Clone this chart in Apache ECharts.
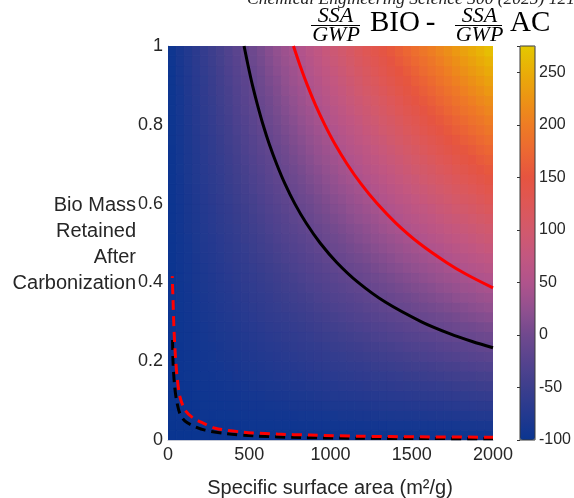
<!DOCTYPE html>
<html>
<head>
<meta charset="utf-8">
<script src="https://cdn.jsdelivr.net/npm/echarts@6/dist/echarts.min.js"></script>
<style>
html,body{margin:0;padding:0;background:#fff;}
#chart{width:574px;height:498px;}
</style>
</head>
<body>
<div id="chart"></div>
<script>
// Cell centres of the heat map grid (specific surface area, m2/g and mass retained)
const ssaCenters = [25,75,125,175,225,275,325,375,425,475,525,575,625,675,725,775,825,875,925,975,1025,1075,1125,1175,1225,1275,1325,1375,1425,1475,1525,1575,1625,1675,1725,1775,1825,1875,1925,1975];
const massCenters = [0.0125,0.0375,0.0625,0.0875,0.1125,0.1375,0.1625,0.1875,0.2125,0.2375,0.2625,0.2875,0.3125,0.3375,0.3625,0.3875,0.4125,0.4375,0.4625,0.4875,0.5125,0.5375,0.5625,0.5875,0.6125,0.6375,0.6625,0.6875,0.7125,0.7375,0.7625,0.7875,0.8125,0.8375,0.8625,0.8875,0.9125,0.9375,0.9625,0.9875];

// SSA/GWP BIO - SSA/GWP AC; one row per mass-retained cell (bottom to top)
const heatRows = [
[-100,-100,-100,-100,-99,-99,-99,-99,-99,-99,-99,-99,-99,-98,-98,-98,-98,-98,-98,-98,-98,-97,-97,-97,-97,-97,-97,-97,-97,-97,-96,-96,-96,-96,-96,-96,-96,-96,-95,-95],
[-100,-99,-99,-99,-98,-98,-98,-97,-97,-97,-96,-96,-96,-95,-95,-95,-94,-94,-93,-93,-93,-92,-92,-92,-91,-91,-91,-90,-90,-90,-89,-89,-89,-88,-88,-88,-87,-87,-86,-86],
[-100,-99,-99,-98,-97,-97,-96,-96,-95,-94,-94,-93,-93,-92,-92,-91,-90,-90,-89,-89,-88,-87,-87,-86,-86,-85,-84,-84,-83,-83,-82,-82,-81,-80,-80,-79,-79,-78,-77,-77],
[-100,-99,-98,-97,-96,-95,-95,-94,-93,-92,-91,-91,-90,-89,-88,-87,-86,-86,-85,-84,-83,-82,-82,-81,-80,-79,-78,-77,-77,-76,-75,-74,-73,-73,-72,-71,-70,-69,-68,-68],
[-99,-98,-97,-96,-95,-94,-93,-92,-91,-90,-89,-88,-87,-86,-85,-84,-83,-82,-80,-79,-78,-77,-76,-75,-74,-73,-72,-71,-70,-69,-68,-67,-66,-65,-64,-63,-62,-60,-59,-58],
[-99,-98,-97,-95,-94,-93,-92,-90,-89,-88,-86,-85,-84,-83,-81,-80,-79,-77,-76,-75,-74,-72,-71,-70,-68,-67,-66,-65,-63,-62,-61,-59,-58,-57,-56,-54,-53,-52,-50,-49],
[-99,-98,-96,-95,-93,-92,-90,-89,-87,-86,-84,-82,-81,-79,-78,-76,-75,-73,-72,-70,-69,-67,-66,-64,-63,-61,-60,-58,-57,-55,-54,-52,-50,-49,-47,-46,-44,-43,-41,-40],
[-99,-97,-96,-94,-92,-90,-89,-87,-85,-83,-82,-80,-78,-76,-75,-73,-71,-69,-67,-66,-64,-62,-60,-59,-57,-55,-53,-52,-50,-48,-46,-45,-43,-41,-39,-38,-36,-34,-32,-31],
[-99,-97,-95,-93,-91,-89,-87,-85,-83,-81,-79,-77,-75,-73,-71,-69,-67,-65,-63,-61,-59,-57,-55,-53,-51,-49,-47,-45,-43,-41,-39,-37,-35,-33,-31,-29,-27,-25,-23,-21],
[-99,-97,-94,-92,-90,-88,-86,-83,-81,-79,-77,-74,-72,-70,-68,-65,-63,-61,-59,-57,-54,-52,-50,-48,-45,-43,-41,-39,-37,-34,-32,-30,-28,-25,-23,-21,-19,-17,-14,-12],
[-99,-96,-94,-91,-89,-86,-84,-82,-79,-77,-74,-72,-69,-67,-64,-62,-59,-57,-54,-52,-50,-47,-45,-42,-40,-37,-35,-32,-30,-27,-25,-22,-20,-18,-15,-13,-10,-8,-5,-3],
[-99,-96,-93,-91,-88,-85,-82,-80,-77,-74,-72,-69,-66,-64,-61,-58,-56,-53,-50,-47,-45,-42,-39,-37,-34,-31,-29,-26,-23,-20,-18,-15,-12,-10,-7,-4,-2,1,4,6],
[-99,-96,-93,-90,-87,-84,-81,-78,-75,-72,-69,-66,-63,-60,-58,-55,-52,-49,-46,-43,-40,-37,-34,-31,-28,-25,-22,-19,-17,-14,-11,-8,-5,-2,1,4,7,10,13,16],
[-98,-95,-92,-89,-86,-83,-79,-76,-73,-70,-67,-64,-60,-57,-54,-51,-48,-45,-41,-38,-35,-32,-29,-26,-22,-19,-16,-13,-10,-7,-3,0,3,6,9,12,15,19,22,25],
[-98,-95,-92,-88,-85,-81,-78,-75,-71,-68,-64,-61,-58,-54,-51,-47,-44,-41,-37,-34,-30,-27,-24,-20,-17,-13,-10,-7,-3,0,4,7,10,14,17,21,24,27,31,34],
[-98,-95,-91,-87,-84,-80,-76,-73,-69,-65,-62,-58,-55,-51,-47,-44,-40,-36,-33,-29,-26,-22,-18,-15,-11,-7,-4,0,4,7,11,14,18,22,25,29,33,36,40,43],
[-98,-94,-90,-86,-83,-79,-75,-71,-67,-63,-59,-56,-52,-48,-44,-40,-36,-32,-28,-25,-21,-17,-13,-9,-5,-1,2,6,10,14,18,22,26,30,33,37,41,45,49,53],
[-98,-94,-90,-86,-82,-77,-73,-69,-65,-61,-57,-53,-49,-45,-41,-36,-32,-28,-24,-20,-16,-12,-8,-4,0,5,9,13,17,21,25,29,33,37,42,46,50,54,58,62],
[-98,-93,-89,-85,-80,-76,-72,-67,-63,-59,-54,-50,-46,-41,-37,-33,-28,-24,-20,-15,-11,-7,-2,2,6,11,15,19,24,28,32,37,41,45,50,54,58,63,67,71],
[-98,-93,-89,-84,-79,-75,-70,-66,-61,-57,-52,-47,-43,-38,-34,-29,-25,-20,-15,-11,-6,-2,3,7,12,17,21,26,30,35,39,44,49,53,58,62,67,71,76,81],
[-98,-93,-88,-83,-78,-74,-69,-64,-59,-54,-50,-45,-40,-35,-30,-26,-21,-16,-11,-6,-2,3,8,13,18,23,27,32,37,42,47,51,56,61,66,71,75,80,85,90],
[-97,-92,-87,-82,-77,-72,-67,-62,-57,-52,-47,-42,-37,-32,-27,-22,-17,-12,-7,-2,3,8,13,18,23,28,34,39,44,49,54,59,64,69,74,79,84,89,94,99],
[-97,-92,-87,-82,-76,-71,-66,-60,-55,-50,-45,-39,-34,-29,-24,-18,-13,-8,-2,3,8,13,19,24,29,34,40,45,50,56,61,66,71,77,82,87,92,98,103,108],
[-97,-92,-86,-81,-75,-70,-64,-59,-53,-48,-42,-37,-31,-26,-20,-15,-9,-4,2,7,13,18,24,29,35,40,46,51,57,62,68,73,79,85,90,96,101,107,112,118],
[-97,-91,-86,-80,-74,-68,-63,-57,-51,-45,-40,-34,-28,-22,-17,-11,-5,0,6,12,18,23,29,35,41,46,52,58,64,69,75,81,87,92,98,104,110,115,121,127],
[-97,-91,-85,-79,-73,-67,-61,-55,-49,-43,-37,-31,-25,-19,-13,-7,-1,5,11,17,23,28,34,40,46,52,58,64,70,76,82,88,94,100,106,112,118,124,130,136],
[-97,-91,-84,-78,-72,-66,-60,-53,-47,-41,-35,-29,-22,-16,-10,-4,2,9,15,21,27,34,40,46,52,58,65,71,77,83,89,96,102,108,114,120,127,133,139,145],
[-97,-90,-84,-77,-71,-65,-58,-52,-45,-39,-32,-26,-19,-13,-7,0,6,13,19,26,32,39,45,51,58,64,71,77,84,90,97,103,109,116,122,129,135,142,148,155],
[-97,-90,-83,-77,-70,-63,-57,-50,-43,-37,-30,-23,-17,-10,-3,4,10,17,24,30,37,44,50,57,64,70,77,84,90,97,104,110,117,124,130,137,144,150,157,164],
[-97,-90,-83,-76,-69,-62,-55,-48,-41,-34,-27,-20,-14,-7,0,7,14,21,28,35,42,49,56,62,69,76,83,90,97,104,111,118,125,132,139,145,152,159,166,173],
[-96,-89,-82,-75,-68,-61,-54,-46,-39,-32,-25,-18,-11,-3,4,11,18,25,32,39,47,54,61,68,75,82,89,97,104,111,118,125,132,139,147,154,161,168,175,182],
[-96,-89,-82,-74,-67,-59,-52,-45,-37,-30,-22,-15,-8,0,7,14,22,29,37,44,51,59,66,73,81,88,96,103,110,118,125,133,140,147,155,162,169,177,184,192],
[-96,-89,-81,-73,-66,-58,-50,-43,-35,-28,-20,-12,-5,3,10,18,26,33,41,49,56,64,71,79,87,94,102,109,117,125,132,140,148,155,163,170,178,186,193,201],
[-96,-88,-80,-73,-65,-57,-49,-41,-33,-25,-18,-10,-2,6,14,22,30,37,45,53,61,69,77,85,92,100,108,116,124,132,139,147,155,163,171,179,187,194,202,210],
[-96,-88,-80,-72,-64,-56,-47,-39,-31,-23,-15,-7,1,9,17,25,33,42,50,58,66,74,82,90,98,106,114,122,130,139,147,155,163,171,179,187,195,203,211,219],
[-96,-88,-79,-71,-63,-54,-46,-38,-29,-21,-13,-4,4,12,21,29,37,46,54,62,71,79,87,96,104,112,120,129,137,145,154,162,170,179,187,195,204,212,220,229],
[-96,-87,-79,-70,-62,-53,-44,-36,-27,-19,-10,-2,7,15,24,33,41,50,58,67,75,84,92,101,110,118,127,135,144,152,161,169,178,187,195,204,212,221,229,238],
[-96,-87,-78,-69,-60,-52,-43,-34,-25,-17,-8,1,10,19,27,36,45,54,63,71,80,89,98,107,115,124,133,142,150,159,168,177,186,194,203,212,221,230,238,247],
[-95,-86,-77,-68,-59,-50,-41,-32,-23,-14,-5,4,13,22,31,40,49,58,67,76,85,94,103,112,121,130,139,148,157,166,175,184,193,202,211,220,229,238,247,256],
[-95,-86,-77,-68,-58,-49,-40,-31,-21,-12,-3,6,16,25,34,43,53,62,71,81,90,99,108,118,127,136,145,155,164,173,182,192,201,210,219,229,238,247,256,266]
];

// Contour curves: [SSA, mass retained]
const blackSolid = [[468,1.0],[493,0.95],[520,0.9],[551,0.85],[585,0.8],[624,0.75],[669,0.7],[720,0.65],[780,0.6],[851,0.55],[936,0.5],[1040,0.45],[1170,0.4],[1337,0.35],[1560,0.3],[1733,0.27],[1872,0.25],[2000,0.234]];
const redSolid = [[772,1.0],[813,0.95],[858,0.9],[908,0.85],[965,0.8],[1029,0.75],[1103,0.7],[1188,0.65],[1287,0.6],[1404,0.55],[1544,0.5],[1716,0.45],[1838,0.42],[2000,0.386]];
const blackDashed = [[28,0.254],[31,0.198],[40,0.14],[52,0.102],[74,0.066],[105,0.048],[154,0.036],[228,0.025],[352,0.0165],[537,0.0102],[815,0.0063],[1185,0.0045],[1556,0.0037],[2000,0.0032]];
const redDashed = [[26,0.416],[31,0.355],[37,0.279],[46,0.211],[58,0.152],[74,0.109],[105,0.076],[154,0.056],[216,0.043],[290,0.03],[463,0.02],[673,0.015],[877,0.0125],[1185,0.0095],[1556,0.008],[2000,0.007]];

// Axis ticks
const ssaTicks = [0,500,1000,1500,2000];
const massTicks = [0,0.2,0.4,0.6,0.8,1];
const cbarTicks = [-100,-50,0,50,100,150,200,250];
const cbarMin = -100, cbarMax = 275;
const cmap = ['#0a3590','#24398f','#3c3e8d','#56438e','#70498e','#92508f','#b0538c','#c35780','#d2596c','#de5756','#e65440','#ec6832','#ee7c24','#ec9414','#e9ad08','#e4c800'];

const halfW = (ssaCenters[1] - ssaCenters[0]) / 2;
const halfH = (massCenters[1] - massCenters[0]) / 2;
const heatData = [];
heatRows.forEach((row, j) => row.forEach((v, k) => heatData.push([ssaCenters[k], massCenters[j], v])));

const SANS = "'Liberation Sans', Arial, Helvetica, sans-serif";
const SERIF = "'Liberation Serif', 'Times New Roman', serif";
const txt = '#262626';

const chart = echarts.init(document.getElementById('chart'), null, {renderer: 'canvas'});
const plot = {left: 168, top: 46, width: 325, height: 394};
const cbar = {left: 520, top: 46, width: 15, height: 394};

chart.setOption({
  animation: false,
  backgroundColor: '#fff',
  grid: [
    Object.assign({}, plot),
    Object.assign({}, cbar)
  ],
  xAxis: [
    {gridIndex: 0, type: 'value', min: ssaTicks[0], max: ssaTicks[ssaTicks.length-1], interval: 500,
     axisLine: {show: true, lineStyle: {color: '#c4c8d4', width: 1}}, axisTick: {show: false}, splitLine: {show: false},
     axisLabel: {fontSize: 18, color: txt, fontFamily: SANS, margin: 6, formatter: v => String(v)}},
    {gridIndex: 1, type: 'value', show: false}
  ],
  yAxis: [
    {gridIndex: 0, type: 'value', min: massTicks[0], max: massTicks[massTicks.length-1], interval: 0.2,
     axisLine: {show: true, lineStyle: {color: '#c4c8d4', width: 1}}, axisTick: {show: false}, splitLine: {show: false},
     axisLabel: {fontSize: 18, color: txt, fontFamily: SANS, margin: 5, formatter: v => String(v)}},
    {gridIndex: 1, type: 'value', min: cbarMin, max: cbarMax, interval: 50, position: 'right', z: 6,
     axisLine: {show: false}, splitLine: {show: false},
     axisTick: {show: true, inside: true, length: 3, lineStyle: {color: '#333', width: 1}},
     axisLabel: {fontSize: 16, color: txt, fontFamily: SANS, margin: 5,
       formatter: v => cbarTicks.indexOf(v) >= 0 ? String(v) : ''}}
  ],
  visualMap: {
    type: 'continuous', min: cbarMin, max: cbarMax, seriesIndex: 0, dimension: 2, calculable: false, hoverLink: false,
    left: cbar.left, top: cbar.top, itemWidth: cbar.width, itemHeight: cbar.height, padding: 0, text: null,
    inRange: {color: cmap}
  },
  graphic: [
    {type: 'rect', z: 10, silent: true, shape: {x: cbar.left, y: cbar.top, width: cbar.width, height: cbar.height},
     style: {fill: 'none', stroke: '#3a3a3a', lineWidth: 1}},
    {type: 'text', left: 247, top: -10, silent: true,
     style: {text: 'Chemical Engineering Science 300 (2025) 121', font: 'italic 17.5px ' + SERIF, fill: '#222'}},
    // title: SSA/GWP BIO - SSA/GWP AC
    {type: 'text', silent: true, style: {text: 'SSA', x: 335.5, y: 16.5, align: 'center', verticalAlign: 'middle', font: 'italic 22px ' + SERIF, fill: '#000'}},
    {type: 'line', silent: true, shape: {x1: 311, y1: 25.5, x2: 360, y2: 25.5}, style: {stroke: '#000', lineWidth: 1}},
    {type: 'text', silent: true, style: {text: 'GWP', x: 336, y: 35.5, align: 'center', verticalAlign: 'middle', font: 'italic 22px ' + SERIF, fill: '#000'}},
    {type: 'text', silent: true, style: {text: 'BIO', x: 370, y: 23.5, align: 'left', verticalAlign: 'middle', font: '29px ' + SERIF, fill: '#000'}},
    {type: 'text', silent: true, style: {text: '-', x: 430.5, y: 23.5, align: 'center', verticalAlign: 'middle', font: '29px ' + SERIF, fill: '#000'}},
    {type: 'text', silent: true, style: {text: 'SSA', x: 479.5, y: 16.5, align: 'center', verticalAlign: 'middle', font: 'italic 22px ' + SERIF, fill: '#000'}},
    {type: 'line', silent: true, shape: {x1: 455, y1: 25.5, x2: 502, y2: 25.5}, style: {stroke: '#000', lineWidth: 1}},
    {type: 'text', silent: true, style: {text: 'GWP', x: 479.5, y: 35.5, align: 'center', verticalAlign: 'middle', font: 'italic 22px ' + SERIF, fill: '#000'}},
    {type: 'text', silent: true, style: {text: 'AC', x: 510, y: 23.5, align: 'left', verticalAlign: 'middle', font: '29px ' + SERIF, fill: '#000'}},
    // axis titles
    {type: 'text', silent: true, style: {text: 'Bio Mass\nRetained\nAfter\nCarbonization', x: 136, y: 192, align: 'right', verticalAlign: 'top', lineHeight: 26, font: '20px ' + SANS, fill: txt}},
    {type: 'text', silent: true, style: {text: 'Specific surface area (m\u00B2/g)', x: 330, y: 488, align: 'center', verticalAlign: 'middle', font: '20px ' + SANS, fill: txt}}
  ],
  series: [
    {type: 'custom', xAxisIndex: 0, yAxisIndex: 0, data: heatData, silent: true, clip: true,
     encode: {x: 0, y: 1},
     renderItem: function (params, api) {
       const x = api.value(0), y = api.value(1);
       const p0 = api.coord([x - halfW, y + halfH]);
       const p1 = api.coord([x + halfW, y - halfH]);
       const c = api.visual('color');
       return {type: 'rect', shape: {x: p0[0], y: p0[1], width: p1[0] - p0[0], height: p1[1] - p0[1]},
               style: {fill: c, stroke: c, lineWidth: 1}};
     }},
    {type: 'line', xAxisIndex: 0, yAxisIndex: 0, data: blackDashed, smooth: 0.3, showSymbol: false, silent: true,
     lineStyle: {color: '#000', width: 3, type: [10, 6]}},
    {type: 'line', xAxisIndex: 0, yAxisIndex: 0, data: redDashed, smooth: 0.3, showSymbol: false, silent: true,
     lineStyle: {color: '#ff0000', width: 3, type: [10, 6], dashOffset: 8}},
    {type: 'line', xAxisIndex: 0, yAxisIndex: 0, data: blackSolid, smooth: 0.3, showSymbol: false, silent: true,
     lineStyle: {color: '#000', width: 3}},
    {type: 'line', xAxisIndex: 0, yAxisIndex: 0, data: redSolid, smooth: 0.3, showSymbol: false, silent: true,
     lineStyle: {color: '#ff0000', width: 3}}
  ]
});
</script>
</body>
</html>
